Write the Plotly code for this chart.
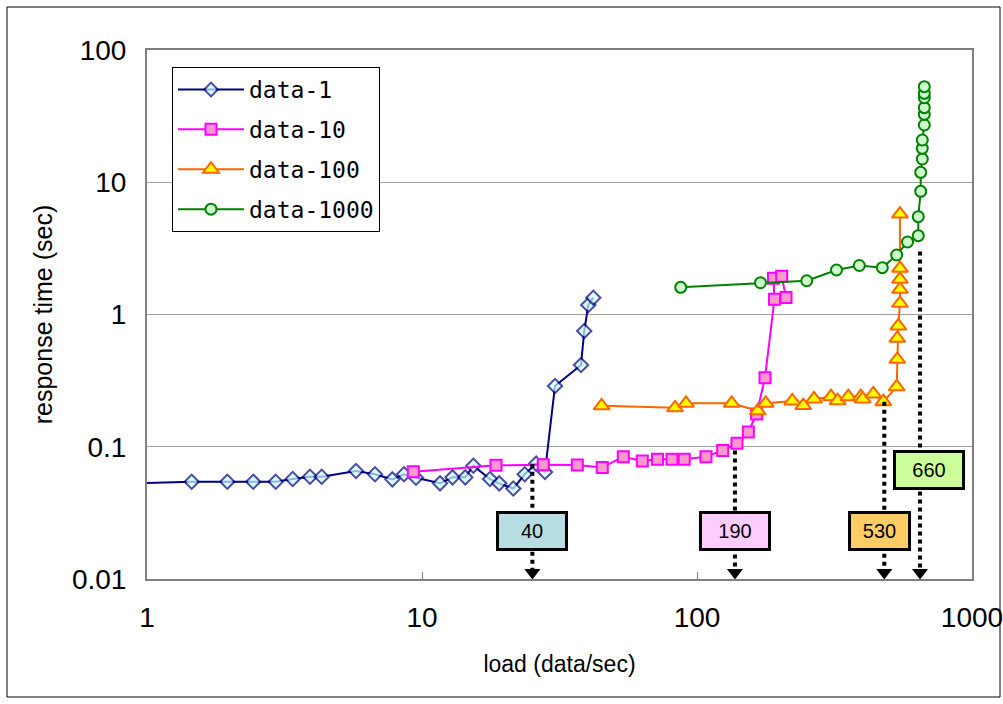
import math
import plotly.graph_objects as go

# ---------------- data ----------------
d1_x = [0.97, 1.454, 1.959, 2.435, 2.938, 3.387, 3.914, 4.318, 5.754, 6.745, 7.80, 8.60, 9.51,
        11.63, 12.91, 14.37, 15.37, 17.67, 19.09, 21.48, 23.63, 26.0, 28.0, 30.45, 37.86, 38.9, 40.25, 41.97]
d1_y = [0.053, 0.0544, 0.0544, 0.0544, 0.0544, 0.0570, 0.0593, 0.0593, 0.0656, 0.0619, 0.0567, 0.0619, 0.0583,
        0.0529, 0.0587, 0.0587, 0.0719, 0.0570, 0.0529, 0.0483, 0.0619, 0.0745, 0.0644, 0.288, 0.415, 0.750, 1.18, 1.34]

d10_x = [9.30, 18.58, 27.61, 36.71, 45.24, 53.95, 63.25, 71.85, 81.1, 89.86, 107.8, 124.0, 139.8,
         153.7, 164.8, 176.7, 191.3, 189.7, 203.2, 210.7]
d10_y = [0.0648, 0.0724, 0.0731, 0.0728, 0.0697, 0.0841, 0.0780, 0.0804, 0.0804, 0.0804, 0.0841, 0.0937, 0.1062,
         0.1292, 0.1768, 0.3326, 1.303, 1.878, 1.944, 1.345]

d100_x = [45.0, 83.2, 91.2, 133.7, 166.3, 177.8, 222.1, 243.5, 266.4, 307.1, 324.8, 354.9, 393.8, 400.4,
          437.7, 475.9, 532.3, 535.0, 535.0, 539.5, 547.0, 547.0, 547.0, 547.0, 547.0]
d100_y = [0.204, 0.197, 0.213, 0.213, 0.187, 0.213, 0.222, 0.205, 0.230, 0.239, 0.223, 0.239, 0.239, 0.230,
          0.251, 0.219, 0.284, 0.458, 0.661, 0.819, 1.216, 1.551, 1.845, 2.235, 5.75]

d1000_x = [87.25, 170.2, 250.6, 321.6, 389.3, 471.9, 532.3, 582.8, 637.8, 637.8, 650.8, 650.8, 659.6,
           659.6, 659.6, 670.7, 670.7, 670.7, 670.7, 670.7, 670.7]
d1000_y = [1.605, 1.739, 1.800, 2.170, 2.347, 2.259, 2.818, 3.535, 3.944, 5.49, 8.54, 11.89, 14.99,
           18.05, 20.87, 27.1, 32.64, 36.63, 43.57, 47.07, 52.8]

# threshold markers: label, x of the dotted line, y where the dotted line starts
mark_labels = ["40", "190", "530", "660"]
mark_x = [25.2, 137.4, 479.8, 647.1]
mark_top = [0.0745, 0.0937, 0.219, 3.0]
box_x = [25.2, 137.4, 460.0, 695.0]
box_y = [0.0230, 0.0230, 0.0230, 0.0664]
box_colors = ["#B7DDE3", "#FFCCFF", "#FFCC66", "#CCFF99"]

x_ticks = [1, 10, 100, 1000]
y_ticks = [0.01, 0.1, 1, 10, 100]
y_ticktext = ["0.01", "0.1", "1", "10", "100"]

# ---------------- figure ----------------
fig = go.Figure()

d1_sizes = [0] + [11] * (len(d1_x) - 1)
fig.add_trace(go.Scatter(x=d1_x, y=d1_y, name="data-1", mode="lines+markers",
                         line=dict(color="#000080", width=2),
                         marker=dict(symbol="diamond", size=d1_sizes, color="#CCFFFF",
                                     line=dict(color="#000080", width=2)),
                         legendgroup="a"))
fig.add_trace(go.Scatter(x=d10_x, y=d10_y, name="data-10", mode="lines+markers",
                         line=dict(color="#FF00FF", width=2),
                         marker=dict(symbol="square", size=11, color="#FF99CC",
                                     line=dict(color="#FF00FF", width=2)),
                         legendgroup="b"))
fig.add_trace(go.Scatter(x=d100_x, y=d100_y, name="data-100", mode="lines+markers",
                         line=dict(color="#FF6600", width=2),
                         marker=dict(symbol="triangle-up", size=14, color="#FFFF00",
                                     line=dict(color="#FF6600", width=2)),
                         legendgroup="c"))
fig.add_trace(go.Scatter(x=d1000_x, y=d1000_y, name="data-1000", mode="lines+markers",
                         line=dict(color="#008000", width=2),
                         marker=dict(symbol="circle", size=11, color="#CCFFCC",
                                     line=dict(color="#008000", width=2)),
                         legendgroup="d"))

# dotted drop lines with arrowheads
for lx, ly in zip(mark_x, mark_top):
    fig.add_trace(go.Scatter(x=[lx, lx], y=[ly, 0.0112], mode="lines",
                             line=dict(color="black", width=4, dash="dot"),
                             showlegend=False, hoverinfo="skip"))
    fig.add_trace(go.Scatter(x=[lx], y=[0.0112], mode="markers",
                             marker=dict(symbol="triangle-down", size=14, color="black"),
                             showlegend=False, hoverinfo="skip", cliponaxis=False))

for lab, bx, by, bc in zip(mark_labels, box_x, box_y, box_colors):
    fig.add_annotation(x=math.log10(bx), y=math.log10(by), xref="x", yref="y", text=lab,
                       showarrow=False, bgcolor=bc, bordercolor="black", borderwidth=3,
                       borderpad=0, width=66 if lab != "530" else 57, height=34,
                       font=dict(family="Liberation Sans, Arial", size=20, color="black"))

W, H = 1003, 704
L, R, T, B = 147, 972, 50, 579
fig.add_shape(type="rect", xref="paper", yref="paper",
              x0=(7 - L) / (R - L), x1=(1000 - L) / (R - L),
              y0=(B - 697) / (B - T), y1=(B - 7) / (B - T),
              line=dict(color="black", width=1), layer="below")

fig.update_layout(
    width=W, height=H,
    margin=dict(l=L, r=W - R, t=T, b=H - B, autoexpand=False),
    paper_bgcolor="white", plot_bgcolor="white",
    font=dict(family="Liberation Sans, Arial", color="black"),
    legend=dict(x=(172 - L) / (R - L), y=1 - (67 - T) / (B - T), xanchor="left", yanchor="top",
                bgcolor="white", bordercolor="black", borderwidth=1,
                font=dict(family="DejaVu Sans Mono", size=23),
                itemwidth=66,
                traceorder="grouped", tracegroupgap=7),
    showlegend=True,
)
fig.update_xaxes(type="log", range=[0, 3], tickvals=x_ticks, ticktext=[str(v) for v in x_ticks],
                 automargin=False, ticklabeloverflow="allow",
                 showgrid=False, showline=True, mirror=True, linecolor="#808080", linewidth=2,
                 ticks="inside", ticklen=7, tickcolor="#808080",
                 tickfont=dict(size=28), ticklabelstandoff=12,
                 title=dict(text="load (data/sec)", font=dict(size=23), standoff=24),
                 zeroline=False)
fig.update_yaxes(type="log", range=[-2, 2], tickvals=y_ticks, ticktext=y_ticktext,
                 automargin=False, ticklabeloverflow="allow",
                 showgrid=True, gridcolor="#A0A0A0", gridwidth=1,
                 showline=True, mirror=True, linecolor="#808080", linewidth=2,
                 ticks="", tickfont=dict(size=28), ticklabelstandoff=13,
                 title=dict(text="response time (sec)", font=dict(size=25), standoff=12),
                 zeroline=False)

fig.write_html("out.html")
